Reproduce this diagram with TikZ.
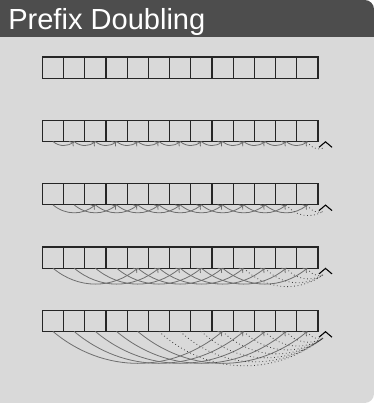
\documentclass[tikz,border=0pt]{standalone}
\usepackage{fontspec}
\setmainfont{Liberation Sans}
\usetikzlibrary{arrows.meta}

\definecolor{barcol}{HTML}{4D4D4D}
\definecolor{panelcol}{HTML}{D9D9D9}
\definecolor{arccol}{HTML}{6E6E6E}

\tikzset{
  cell/.style={draw=black!85, line width=0.9pt, minimum width=15.9pt,
    minimum height=15.9pt, inner sep=0pt, outer sep=0pt, anchor=north west},
  jump/.style={draw=arccol, line width=0.6pt, -{To[length=3pt,width=5pt]}},
  overrun/.style={draw=black!75, dotted, line width=0.6pt},
  caret/.style={draw=black, line width=0.8pt},
}

\begin{document}
\begin{tikzpicture}[x=0.75pt, y=-0.75pt]

  % -- Panel and title bar --
  \useasboundingbox (0,0) rectangle (374,403);
  \fill[panelcol] (0,403) -- (0,0) [rounded corners=7pt] -- (374,0) -- (374,403) [sharp corners] -- cycle;
  \fill[barcol] (0,37) -- (0,0) [rounded corners=7pt] -- (374,0) [sharp corners] -- (374,37) -- cycle;
  \node[anchor=base west, text=white, font=\fontsize{21.8}{24}\selectfont, inner sep=0pt] (title) at (8,30) {Prefix Doubling};

  % -- Arrays --
  \foreach \r in {1,...,5} {
    \foreach \i in {0,...,12} {
      \node[cell] (c\r-\i) at ({42.3+21.2*\i}, {57+63.3*(\r-1)}) {};
    }
    \coordinate (tip\r) at (325.5, {57+63.3*(\r-1)+21.5});
    \coordinate (end\r) at (323, {57+63.3*(\r-1)+28});
  }

  % -- Jumps of length 1, 2, 4, 8 --
  \foreach \r/\d in {2/1, 3/2, 4/4, 5/8} {
    \foreach \i in {0,...,12} {
      \pgfmathtruncatemacro\j{\i+\d}
      \ifnum\j<13
        \draw[jump] (c\r-\i.south) to[bend right=40] (c\r-\j.south);
      \else
        \draw[overrun] (c\r-\i.south) to[bend right=40] (end\r);
      \fi
    }
    % end marker
    \draw[caret] (tip\r) ++(-6.5,5.5) -- (tip\r) -- ++(6.5,5.5);
  }

\end{tikzpicture}
\end{document}
